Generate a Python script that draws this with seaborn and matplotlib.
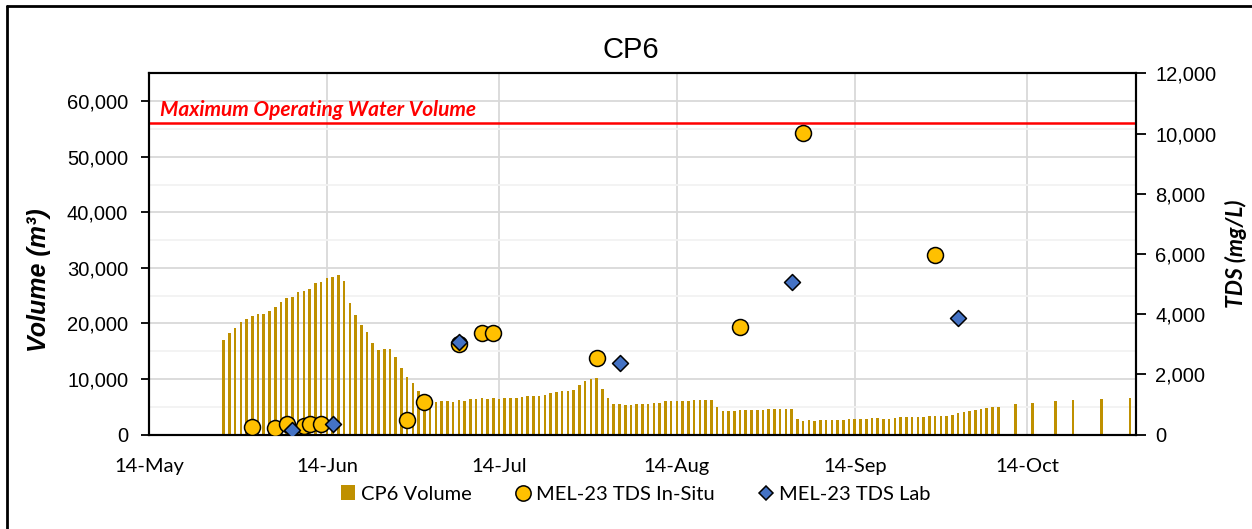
"""
CP6 - volume diario do reservatorio e TDS do MEL-23 (in-situ e laboratorio)
"""

import pandas as pd
import matplotlib.pyplot as plt
import matplotlib.dates as mdates
import seaborn as sns
from matplotlib.lines import Line2D
from matplotlib.patches import Patch
from matplotlib.ticker import MultipleLocator, FixedLocator, StrMethodFormatter

# Volume diario (m3), 27-May a 09-Oct, depois leituras esparsas
vol_daily_start = "2022-05-27"
vol_daily_end = "2022-10-09"
vol_daily = [
    17000, 18300, 19200, 20200, 20800, 21400, 21700, 21700, 22200, 23000,
    23800, 24600, 24700, 25600, 25900, 26200, 27200, 27500, 28100, 28400,
    28700, 27600, 23700, 21600, 19800, 18400, 16500, 15300, 15400, 15500,
    14000, 12000, 10400, 9300, 7900, 7000, 6000, 5900, 6000, 6000,
    5900, 6200, 6000, 6400, 6400, 6600, 6500, 6600, 6500, 6600,
    6600, 6600, 6800, 7000, 6900, 6900, 7200, 7500, 7600, 7800,
    7800, 8000, 8900, 9600, 10000, 10200, 8200, 6600, 5500, 5500,
    5400, 5300, 5500, 5600, 5600, 5700, 5700, 6000, 6000, 6000,
    6100, 6000, 6200, 6300, 6200, 6200, 5000, 4200, 4200, 4200,
    4400, 4400, 4400, 4500, 4500, 4600, 4600, 4700, 4700, 4700,
    2800, 2400, 2600, 2500, 2600, 2600, 2600, 2700, 2700, 2800,
    2800, 2900, 2900, 3000, 3000, 2900, 2900, 3000, 3100, 3200,
    3100, 3200, 3200, 3300, 3300, 3300, 3400, 3500, 3900, 4100,
    4200, 4400, 4700, 4800, 4900, 4900,
]
vol_sparse_dates = ["2022-10-12", "2022-10-15", "2022-10-19",
                    "2022-10-22", "2022-10-27", "2022-11-01"]
vol_sparse = [5450, 5700, 6000, 6200, 6400, 6600]

# TDS (mg/L)
insitu_dates = ["2022-06-01", "2022-06-05", "2022-06-07", "2022-06-10",
                "2022-06-11", "2022-06-13", "2022-06-28", "2022-07-01",
                "2022-07-07", "2022-07-11", "2022-07-13", "2022-07-31",
                "2022-08-25", "2022-09-05", "2022-09-28"]
insitu_tds = [245, 210, 355, 300, 355, 355, 490, 1100,
              3000, 3370, 3370, 2540, 3585, 10030, 5970]

lab_dates = ["2022-06-08", "2022-06-15", "2022-07-07",
             "2022-08-04", "2022-09-03", "2022-10-02"]
lab_tds = [155, 345, 3070, 2390, 5080, 3865]

max_volume = 56000

GOLD = "#BF9000"
YELLOW = "#FFC000"
BLUE = "#4472C4"
ARIAL = ["Liberation Sans", "DejaVu Sans"]
CALIBRI = ["Lato", "DejaVu Sans"]


def main():
    sns.set_style("white")
    plt.rcParams["font.family"] = ARIAL
    plt.rcParams.update({
        "text.color": "black",
        "axes.labelcolor": "black",
        "xtick.color": "black",
        "ytick.color": "black",
    })

    vol_dates = list(pd.date_range(vol_daily_start, vol_daily_end)) + \
        list(pd.to_datetime(vol_sparse_dates))
    volume = pd.DataFrame({
        "x": mdates.date2num(vol_dates),
        "vol": vol_daily + vol_sparse,
    })
    insitu = pd.DataFrame({"x": mdates.date2num(pd.to_datetime(insitu_dates)),
                           "tds": insitu_tds})
    lab = pd.DataFrame({"x": mdates.date2num(pd.to_datetime(lab_dates)),
                        "tds": lab_tds})

    fig, ax = plt.subplots(figsize=(12.52, 5.29), dpi=100)
    fig.subplots_adjust(left=0.119, right=0.9073, bottom=0.1783, top=0.8614)

    # Barras de volume (eixo esquerdo)
    sns.barplot(data=volume, x="x", y="vol", native_scale=True, width=0.45,
                color=GOLD, saturation=1, errorbar=None, linewidth=0, ax=ax)

    ax.axhline(max_volume, color="red", lw=1.8, zorder=4)
    ax.text(0.011, 57300, "Maximum Operating Water Volume",
            transform=ax.get_yaxis_transform(), color="red", fontsize=15,
            fontweight="bold", fontstyle="italic", family=CALIBRI,
            va="baseline", ha="left", zorder=4)

    ax.set_ylim(0, 65000)
    ax.yaxis.set_major_locator(FixedLocator(range(0, 60001, 10000)))
    ax.yaxis.set_minor_locator(MultipleLocator(5000))
    ax.yaxis.set_major_formatter(StrMethodFormatter("{x:,.0f}"))

    x0 = mdates.date2num(pd.Timestamp("2022-05-14"))
    x1 = mdates.date2num(pd.Timestamp("2022-11-02"))
    ax.set_xlim(x0, x1)
    ax.xaxis.set_major_locator(mdates.MonthLocator(bymonthday=14))
    ax.xaxis.set_major_formatter(mdates.DateFormatter("%d-%b"))

    ax.set_axisbelow(True)
    ax.grid(which="major", axis="both", color="#d9d9d9", lw=1.3)
    ax.grid(which="minor", axis="y", color="#f2f2f2", lw=1.3)

    ax.set_xlabel("")
    ax.set_ylabel("Volume (m³)", fontsize=18, fontweight="bold",
                  fontstyle="italic")
    ax.yaxis.set_label_coords(-0.099, 0.428)

    ax.tick_params(axis="y", which="major", direction="out", length=6,
                   width=1.3, color="black", pad=9, labelsize=14.5)
    ax.tick_params(axis="x", which="major", direction="out", length=8,
                   width=1.3, color="black", pad=9)
    ax.tick_params(which="minor", length=0)
    for lab_txt in ax.get_xticklabels():
        lab_txt.set_family(CALIBRI)
        lab_txt.set_fontsize(14.5)

    # TDS (eixo direito)
    ax2 = ax.twinx()
    sns.scatterplot(data=insitu, x="x", y="tds", marker="o", s=132,
                    color=YELLOW, edgecolor="black", linewidth=1.1,
                    zorder=3, legend=False, ax=ax2)
    sns.scatterplot(data=lab, x="x", y="tds", marker="D", s=66,
                    color=BLUE, edgecolor="black", linewidth=1.1,
                    zorder=4, legend=False, ax=ax2)
    ax2.set_xlim(x0, x1)
    ax2.set_ylim(0, 12000)
    ax2.yaxis.set_major_locator(FixedLocator(range(0, 12001, 2000)))
    ax2.yaxis.set_major_formatter(StrMethodFormatter("{x:,.0f}"))
    ax2.set_xlabel("")
    ax2.set_ylabel("TDS (mg/L)", fontsize=16.5, fontweight="bold",
                   fontstyle="italic", family=CALIBRI, rotation=90)
    ax2.yaxis.set_label_coords(1.090, 0.5)
    ax2.tick_params(axis="y", direction="out", length=7, width=1.3,
                    color="black", pad=7, labelsize=14.5)
    ax2.grid(False)

    for a in (ax, ax2):
        for sp in a.spines.values():
            sp.set_visible(True)
            sp.set_color("black")
            sp.set_linewidth(1.5)

    fig.text(631 / 1252, 1 - 50 / 529, "CP6", ha="center", va="center",
             fontsize=21)

    # Legenda comum
    handles = [
        Patch(facecolor=GOLD, edgecolor="none"),
        Line2D([], [], ls="", marker="o", ms=11, mfc=YELLOW, mec="black",
               mew=1.1),
        Line2D([], [], ls="", marker="D", ms=7.4, mfc=BLUE, mec="black",
               mew=1.1),
    ]
    labels = ["CP6 Volume", "MEL-23 TDS In-Situ", "MEL-23 TDS Lab"]
    fig.legend(handles, labels, loc="center",
               bbox_to_anchor=(636 / 1252, 1 - 494 / 529), ncol=3,
               frameon=False, prop={"family": CALIBRI, "size": 14.5},
               handlelength=0.7, handleheight=0.7, handletextpad=0.3,
               columnspacing=2.2)

    # Moldura do grafico (esquerda e topo)
    fig.add_artist(Line2D([7 / 1252, 7 / 1252], [0, 1 - 6 / 529],
                          transform=fig.transFigure, color="black", lw=2))
    fig.add_artist(Line2D([7 / 1252, 1], [1 - 6 / 529, 1 - 6 / 529],
                          transform=fig.transFigure, color="black", lw=2))

    fig.savefig("out.png", dpi=100)
    plt.close(fig)


if __name__ == "__main__":
    main()
